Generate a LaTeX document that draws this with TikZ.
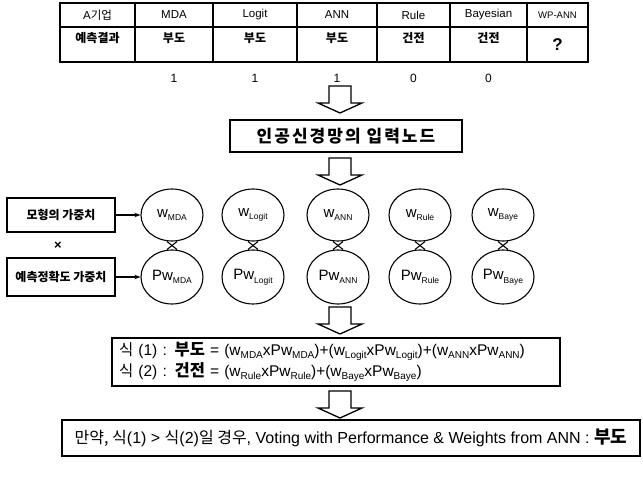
\documentclass[tikz,border=0pt]{standalone}
\usepackage{fontspec}
\setmainfont{Liberation Sans}
\newfontfamily\kr{Noto Sans CJK KR}
\newfontfamily\krwide{Noto Sans CJK KR}[LetterSpace=12]
\usetikzlibrary{shapes.geometric,arrows.meta,calc}
\newcommand{\mysub}[2][8.5]{\raisebox{-0.45ex}{\fontsize{#1}{#1}\selectfont #2}}
\tikzset{
  cell/.style={draw, line width=1.2pt, rectangle, inner sep=0pt, font=\fontsize{11.5}{12}\selectfont},
  celltxt/.style={font=\kr\bfseries\fontsize{12}{12}\selectfont, inner sep=0pt},
  num/.style={font=\fontsize{12}{12}\selectfont, inner sep=0pt},
  box/.style={draw, line width=1.2pt, rectangle, inner sep=0pt},
  ell/.style={draw, ellipse, line width=1.1pt, minimum width=62pt, inner sep=0pt, font=\fontsize{15}{15}\selectfont},
  conn/.style={-{Stealth[length=6pt,width=4.5pt]}, line width=1.1pt},
  glass/.style={line width=1.1pt},
  pics/hollowarr/.style={code={\draw[line width=1.3pt, line join=miter] (-11,0) -- (11,0) -- (11,17) -- (22,17) -- (0,27) -- (-22,17) -- (-11,17) -- cycle;}}
}
\begin{document}
\begin{tikzpicture}[x=1pt,y=-1pt]
\useasboundingbox (0,0) rectangle (643,479);
% table
\foreach \l/\r/\t [count=\i] in {60/135/{A{\kr 기업}},135/213/MDA,213/297/Logit,297/377/ANN,377/450/Rule,450/527/Bayesian,527/588/{\fontsize{9.5}{10}\selectfont WP-ANN}}{
  \node[cell, minimum width={(\r-\l)*1pt}, minimum height=24pt] (h\i) at ({(\l+\r)/2},15) {\t};
  \node[cell, minimum width={(\r-\l)*1pt}, minimum height=35pt] (c\i) at ({(\l+\r)/2},44.5) {};
}
\foreach \i/\t in {1/예측결과,2/부도,3/부도,4/부도,5/건전,6/건전}{
  \node[celltxt] (t\i) at (h\i.center |- 0,38) {\t};
}
\node[font=\bfseries\fontsize{17}{17}\selectfont, inner sep=0pt] (q) at (c7.center) {?};
\foreach \i/\v in {2/1,3/1,4/1,5/0,6/0}{
  \node[num] (n\i) at (h\i.center |- 0,78) {\v};
}
% arrow 1 and input box
\pic at (340,86) {hollowarr};
\node[box, minimum width=232pt, minimum height=32pt, font=\krwide\bfseries\fontsize{17}{17}\selectfont] (inbox) at (346,136) {인공신경망의 입력노드};
\pic at (340,158) {hollowarr};
% left boxes
\node[box, minimum width=108pt, minimum height=34pt, font=\kr\bfseries\fontsize{12}{12}\selectfont] (mw) at (61,215) {모형의 가중치};
\node[font=\bfseries\fontsize{13}{13}\selectfont, inner sep=0pt] (times) at (58,246) {×};
\node[box, minimum width=108pt, minimum height=38pt, font=\kr\bfseries\fontsize{12}{12}\selectfont] (pwb) at (61,277) {예측정확도 가중치};
% ellipses
\foreach \x/\s [count=\i] in {172/MDA,253/Logit,338/ANN,420/Rule,503/Baye}{
  \node[ell, minimum height=52pt] (w\i) at (\x,215) {w\mysub{\s}};
  \node[ell, minimum height=54pt] (p\i) at (\x,277) {Pw\mysub{\s}};
  \draw[glass] ([xshift=-5pt]w\i.south) -- ([xshift=5pt]p\i.north);
  \draw[glass] ([xshift=5pt]w\i.south) -- ([xshift=-5pt]p\i.north);
}
\draw[conn] (mw.east) -- (w1.west);
\draw[conn] (pwb.east) -- (p1.west);
% arrow 3 and formula box
\pic at (340,307) {hollowarr};
\node[box, minimum width=448pt, minimum height=48pt, text width=434pt, align=left, inner xsep=7pt, font=\fontsize{15.5}{21}\selectfont] (fbox) at (336,362) {%
{\kr 식} (1) : {\kr\bfseries\fontsize{16.5}{16.5}\selectfont 부도} = (w\mysub[10]{MDA}xPw\mysub[10]{MDA})+(w\mysub[10]{Logit}xPw\mysub[10]{Logit})+(w\mysub[10]{ANN}xPw\mysub[10]{ANN})\\
{\kr 식} (2) : {\kr\bfseries\fontsize{16.5}{16.5}\selectfont 건전} = (w\mysub[10]{Rule}xPw\mysub[10]{Rule})+(w\mysub[10]{Baye}xPw\mysub[10]{Baye})};
% arrow 4 and result box
\pic at (340,391) {hollowarr};
\node[box, minimum width=578pt, minimum height=36pt, font=\fontsize{16}{16}\selectfont] (res) at (351,438) {{\kr 만약, 식}(1) > {\kr 식}(2){\kr 일 경우}, Voting with Performance \& Weights from ANN : {\kr\bfseries\fontsize{18}{18}\selectfont 부도}};
\end{tikzpicture}
\end{document}
